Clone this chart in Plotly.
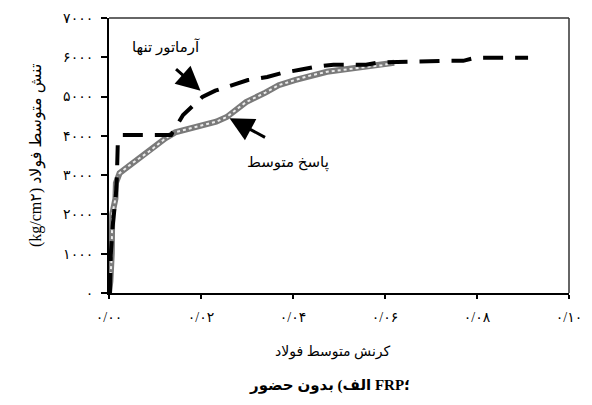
import plotly.graph_objects as go

# ---- data ----
rebar_strain = [0.0002, 0.0004, 0.0008, 0.0012, 0.0015, 0.0017, 0.0019, 0.0019, 0.0028, 0.0135,
                0.0161, 0.0203, 0.0231, 0.0270, 0.0302, 0.0344, 0.0376, 0.0418, 0.0450, 0.0488,
                0.0517, 0.0559, 0.0587, 0.0631, 0.0653, 0.0700, 0.0727, 0.0770, 0.0797, 0.0842,
                0.0865, 0.0911]
rebar_stress = [0, 1000, 1700, 2100, 2500, 2900, 3400, 3770, 4020, 4020,
                4530, 4990, 5150, 5290, 5420, 5500, 5600, 5690, 5760, 5810,
                5800, 5810, 5870, 5880, 5910, 5910, 5910, 5910, 5990, 5990,
                5990, 5990]

avg_strain = [0.0, 0.0003, 0.0006, 0.0007, 0.0014, 0.0015, 0.0023, 0.0050, 0.0087, 0.0123,
              0.0144, 0.0178, 0.0207, 0.0233, 0.0256, 0.0279, 0.0298, 0.0340, 0.0369, 0.0404,
              0.0439, 0.0474, 0.0510, 0.0550, 0.0594, 0.0620]
avg_stress = [0, 300, 1000, 2000, 2400, 2800, 3050, 3300, 3600, 3940,
              4090, 4200, 4280, 4360, 4480, 4700, 4860, 5100, 5290, 5420,
              5540, 5630, 5690, 5740, 5800, 5860]

x_tick_vals = [0.0, 0.02, 0.04, 0.06, 0.08, 0.10]
x_tick_text = ["۰/۰۰", "۰/۰۲", "۰/۰۴", "۰/۰۶", "۰/۰۸", "۰/۱۰"]
y_tick_vals = [0, 1000, 2000, 3000, 4000, 5000, 6000, 7000]
y_tick_text = ["۰", "۱۰۰۰", "۲۰۰۰", "۳۰۰۰", "۴۰۰۰", "۵۰۰۰", "۶۰۰۰", "۷۰۰۰"]

label_rebar = "آرماتور تنها"
label_avg = "پاسخ متوسط"
x_title = "کرنش متوسط فولاد"
y_title = "(kg/cm۲) تنش متوسط فولاد"
caption = "الف) بدون حضور FRP؛"

FONT = "Liberation Serif, DejaVu Sans, serif"

fig = go.Figure()
# average response: textured gray line
fig.add_trace(go.Scatter(x=avg_strain, y=avg_stress, mode="lines",
                         line=dict(color="#7a7a7a", width=6), showlegend=False,
                         hoverinfo="skip"))
fig.add_trace(go.Scatter(x=avg_strain, y=avg_stress, mode="lines",
                         line=dict(color="rgba(255,255,255,0.85)", width=2, dash="dot"),
                         showlegend=False, hoverinfo="skip"))
# rebar alone: thick dashed black
fig.add_trace(go.Scatter(x=rebar_strain, y=rebar_stress, mode="lines",
                         line=dict(color="black", width=4, dash="20px,12px"),
                         showlegend=False))

annotations = [
    # arrow for rebar alone
    dict(x=0.0199, y=5150, xref="x", yref="y", ax=-26, ay=-23, text="",
         showarrow=True, arrowhead=2, arrowsize=1.6, arrowwidth=3, arrowcolor="black", standoff=0),
    dict(x=0.0123, y=6250, xref="x", yref="y", text=label_rebar, showarrow=False,
         font=dict(family=FONT, size=15, color="black")),
    # arrow for average response
    dict(x=0.0262, y=4450, xref="x", yref="y", ax=37, ay=20, text="",
         showarrow=True, arrowhead=2, arrowsize=1.6, arrowwidth=3, arrowcolor="black", standoff=0),
    dict(x=0.0390, y=3320, xref="x", yref="y", text=label_avg, showarrow=False,
         font=dict(family=FONT, size=15, color="black")),
    # axis titles and caption
    dict(x=0, y=0.5, xref="paper", yref="paper", xshift=-84, text=y_title, textangle=-90,
         showarrow=False, font=dict(family=FONT, size=16, color="black")),
    dict(x=0.5, y=0, xref="paper", yref="paper", yshift=-69, xshift=-6, text=x_title,
         showarrow=False, font=dict(family=FONT, size=14, color="black")),
    dict(x=0.5, y=0, xref="paper", yref="paper", yshift=-103, xshift=-10, text="<b>" + caption + "</b>",
         showarrow=False, font=dict(family=FONT, size=15, color="black")),
]

fig.update_layout(
    width=592, height=405,
    margin=dict(l=109, r=10, t=18, b=112),
    plot_bgcolor="white", paper_bgcolor="white",
    annotations=annotations,
    shapes=[
        dict(type="line", xref="paper", yref="paper", x0=0, x1=1, y0=1, y1=1,
             line=dict(color="#666666", width=2)),
        dict(type="line", xref="paper", yref="paper", x0=1, x1=1, y0=0, y1=1,
             line=dict(color="#333333", width=1.5)),
    ],
    font=dict(family=FONT, size=13, color="black"),
)
fig.update_xaxes(range=[0, 0.1], tickvals=x_tick_vals, ticktext=x_tick_text,
                 showgrid=False, zeroline=False, showline=True, linecolor="black", linewidth=2,
                 ticks="outside", ticklen=4, tickwidth=2, tickcolor="black",
                 ticklabelstandoff=6, ticklabeloverflow="allow", tickfont=dict(size=14))
fig.update_yaxes(range=[0, 7000], tickvals=y_tick_vals, ticktext=y_tick_text,
                 showgrid=False, zeroline=False, showline=True, linecolor="black", linewidth=2,
                 ticks="outside", ticklen=6, tickwidth=2, tickcolor="black",
                 ticklabelstandoff=5, tickfont=dict(size=14))

fig.write_html("out.html")
